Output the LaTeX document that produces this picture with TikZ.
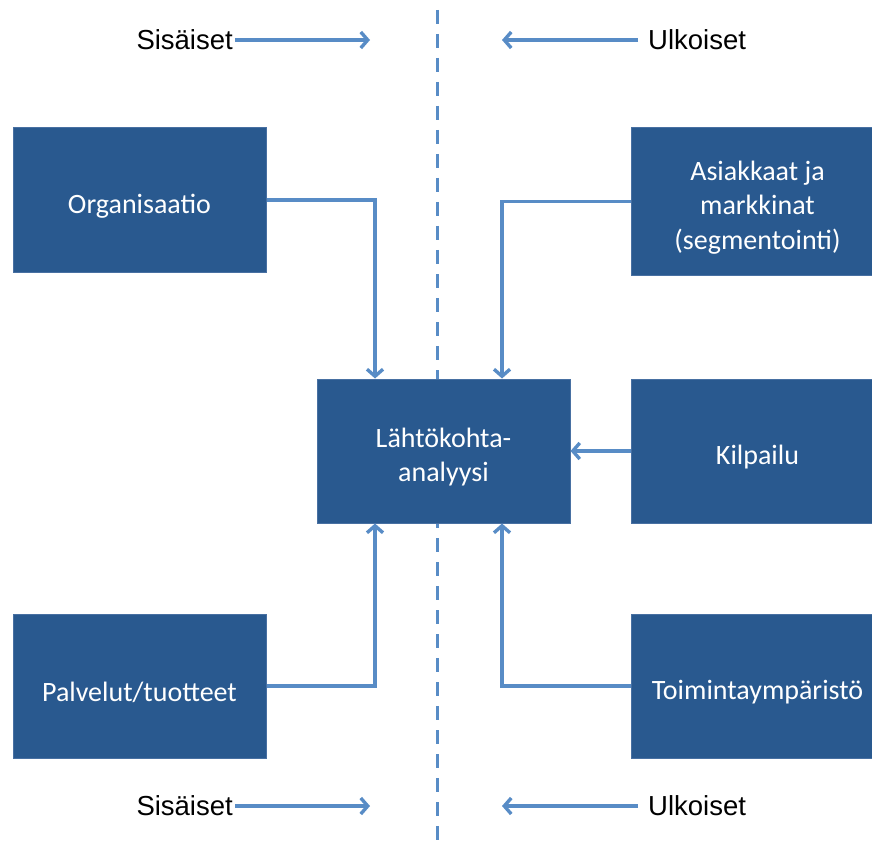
\documentclass[tikz,border=0pt]{standalone}
\usepackage{fontspec}
\setmainfont{Carlito}
\newfontfamily\labelfont{Liberation Sans}
\usetikzlibrary{arrows.meta}
\definecolor{boxblue}{RGB}{41,89,143}
\definecolor{boxedge}{RGB}{72,112,162}
\definecolor{linkblue}{RGB}{88,140,198}
\begin{document}
\begin{tikzpicture}[x=1pt,y=-1pt,
  box/.style={draw=boxedge, line width=1pt, fill=boxblue, minimum width=253pt,
    minimum height=144pt, inner sep=0pt},
  boxtext/.style={text=white, align=center, inner sep=0pt, yshift=-6pt,
    font=\fontsize{28}{34.5}\selectfont},
  link/.style={draw=linkblue, line width=3.4pt,
    -{Straight Barb[length=7pt,width=16pt]}},
  divider/.style={draw=linkblue, line width=3pt, dash pattern=on 14pt off 10pt},
  side/.style={font=\labelfont\fontsize{27.5}{32}\selectfont, inner ysep=2pt}]
\useasboundingbox (0,0) rectangle (872,850);
\clip (0,0) rectangle (872,850);

% dividing line between internal and external factors
\coordinate (dtop) at (437,10);
\coordinate (dbot) at (437,850);
\draw[divider] (dtop) -- (dbot);

% boxes, text set slightly below centre
\node[box, label={[boxtext]center:Organisaatio}] (org) at (139.5,200) {};
\node[box, minimum height=147pt,
  label={[boxtext]center:Asiakkaat ja\\markkinat\\(segmentointi)}] (asi) at (757.5,201.5) {};
\node[box, label={[boxtext]center:Lähtökohta-\\analyysi}] (c) at (443.5,451) {};
\node[box, label={[boxtext]center:Kilpailu}] (kil) at (757.5,451) {};
\node[box, label={[boxtext]center:Palvelut/tuotteet}] (pal) at (139.5,686) {};
\node[box, label={[boxtext]center:Toimintaympäristö}] (toi) at (757.5,686) {};

% connectors into the analysis box
\draw[link] (org.east) -| ([xshift=-68.5pt]c.north);
\draw[link] (asi.west) -| ([xshift=58.5pt]c.north);
\draw[link] (kil.west) -- (c.east);
\draw[link] (pal.east) -| ([xshift=-68.5pt]c.south);
\draw[link] (toi.west) -| ([xshift=58.5pt]c.south);

% side labels, top and bottom
\node[side, anchor=east, inner xsep=2pt] (sis1) at (235,40) {Sisäiset};
\node[side, anchor=west, inner xsep=10pt] (ulk1) at (638,40) {Ulkoiset};
\node[side, anchor=east, inner xsep=2pt] (sis2) at (235,806) {Sisäiset};
\node[side, anchor=west, inner xsep=10pt] (ulk2) at (638,806) {Ulkoiset};
\coordinate (s1) at (370,40);
\coordinate (u1) at (502,40);
\coordinate (s2) at (370,806);
\coordinate (u2) at (502,806);
\draw[link] (sis1.east) -- (s1);
\draw[link] (ulk1.west) -- (u1);
\draw[link] (sis2.east) -- (s2);
\draw[link] (ulk2.west) -- (u2);
\end{tikzpicture}
\end{document}
